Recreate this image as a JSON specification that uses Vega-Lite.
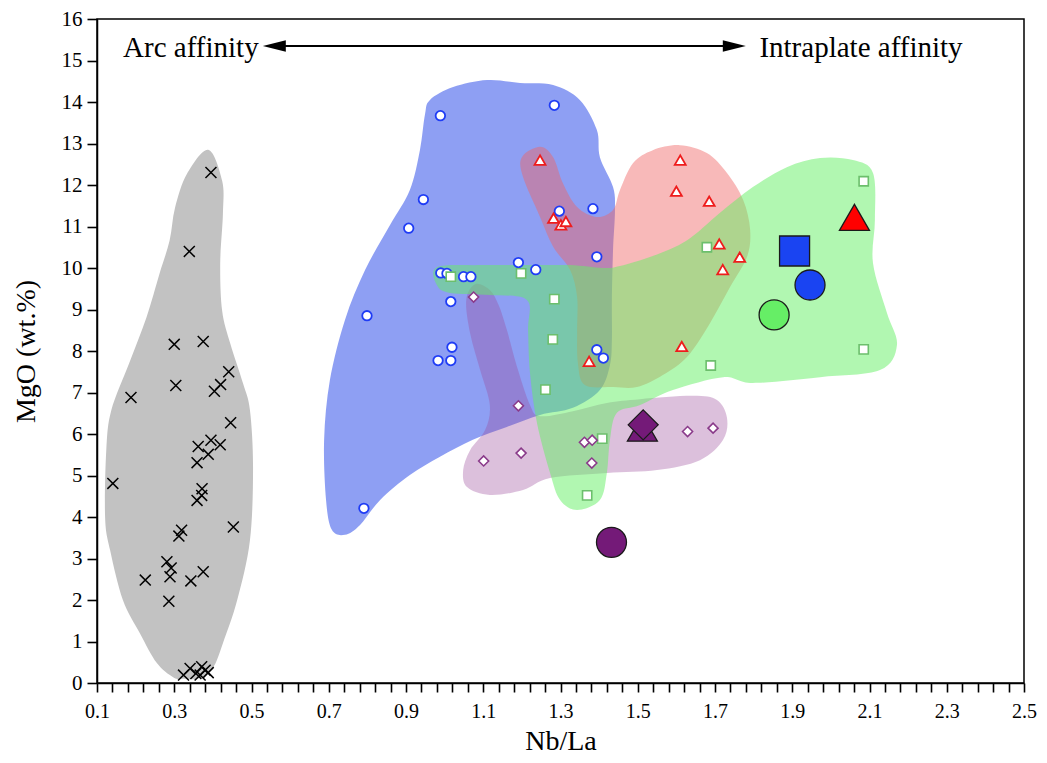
{
  "$schema": "https://vega.github.io/schema/vega-lite/v6.json",
  "width": 927,
  "height": 664,
  "autosize": {"type": "none"},
  "padding": {"left": 97, "top": 19, "right": 23, "bottom": 80},
  "config": {
    "font": "Liberation Serif",
    "view": {"stroke": "black", "strokeWidth": 1.5},
    "axis": {
      "grid": false,
      "domainColor": "black",
      "domainWidth": 1.5,
      "tickColor": "black",
      "tickWidth": 1.6,
      "labelColor": "black",
      "titleColor": "black",
      "titleFontWeight": "normal",
      "labelFont": "Liberation Serif",
      "titleFont": "Liberation Serif"
    }
  },
  "datasets": {
    "regions": [
      {"g": "gray", "i": 1, "x": 0.388, "y": 12.85},
      {"g": "gray", "i": 2, "x": 0.424, "y": 12.10},
      {"g": "gray", "i": 3, "x": 0.426, "y": 11.31},
      {"g": "gray", "i": 4, "x": 0.419, "y": 10.11},
      {"g": "gray", "i": 5, "x": 0.424, "y": 8.97},
      {"g": "gray", "i": 6, "x": 0.445, "y": 8.18},
      {"g": "gray", "i": 7, "x": 0.478, "y": 7.22},
      {"g": "gray", "i": 8, "x": 0.496, "y": 6.57},
      {"g": "gray", "i": 9, "x": 0.504, "y": 5.20},
      {"g": "gray", "i": 10, "x": 0.496, "y": 3.44},
      {"g": "gray", "i": 11, "x": 0.463, "y": 2.00},
      {"g": "gray", "i": 12, "x": 0.426, "y": 0.96},
      {"g": "gray", "i": 13, "x": 0.401, "y": 0.38},
      {"g": "gray", "i": 14, "x": 0.367, "y": 0.12},
      {"g": "gray", "i": 15, "x": 0.323, "y": 0.10},
      {"g": "gray", "i": 16, "x": 0.297, "y": 0.14},
      {"g": "gray", "i": 17, "x": 0.255, "y": 0.48},
      {"g": "gray", "i": 18, "x": 0.211, "y": 1.20},
      {"g": "gray", "i": 19, "x": 0.167, "y": 2.00},
      {"g": "gray", "i": 20, "x": 0.134, "y": 3.20},
      {"g": "gray", "i": 21, "x": 0.121, "y": 3.99},
      {"g": "gray", "i": 22, "x": 0.124, "y": 5.61},
      {"g": "gray", "i": 23, "x": 0.137, "y": 6.57},
      {"g": "gray", "i": 24, "x": 0.183, "y": 7.70},
      {"g": "gray", "i": 25, "x": 0.228, "y": 8.81},
      {"g": "gray", "i": 26, "x": 0.262, "y": 9.87},
      {"g": "gray", "i": 27, "x": 0.288, "y": 10.66},
      {"g": "gray", "i": 28, "x": 0.302, "y": 11.45},
      {"g": "gray", "i": 29, "x": 0.333, "y": 12.27},

      {"g": "blue", "i": 1, "x": 0.962, "y": 14.05},
      {"g": "blue", "i": 2, "x": 1.022, "y": 14.36},
      {"g": "blue", "i": 3, "x": 1.110, "y": 14.53},
      {"g": "blue", "i": 4, "x": 1.195, "y": 14.46},
      {"g": "blue", "i": 5, "x": 1.281, "y": 14.41},
      {"g": "blue", "i": 6, "x": 1.350, "y": 14.05},
      {"g": "blue", "i": 7, "x": 1.394, "y": 13.33},
      {"g": "blue", "i": 8, "x": 1.402, "y": 12.67},
      {"g": "blue", "i": 9, "x": 1.436, "y": 11.95},
      {"g": "blue", "i": 10, "x": 1.441, "y": 11.40},
      {"g": "blue", "i": 11, "x": 1.436, "y": 10.43},
      {"g": "blue", "i": 12, "x": 1.433, "y": 9.23},
      {"g": "blue", "i": 13, "x": 1.433, "y": 8.27},
      {"g": "blue", "i": 14, "x": 1.428, "y": 7.66},
      {"g": "blue", "i": 15, "x": 1.402, "y": 7.06},
      {"g": "blue", "i": 16, "x": 1.332, "y": 6.63},
      {"g": "blue", "i": 17, "x": 1.247, "y": 6.46},
      {"g": "blue", "i": 18, "x": 1.161, "y": 6.17},
      {"g": "blue", "i": 19, "x": 1.073, "y": 5.86},
      {"g": "blue", "i": 20, "x": 0.988, "y": 5.45},
      {"g": "blue", "i": 21, "x": 0.910, "y": 5.01},
      {"g": "blue", "i": 22, "x": 0.833, "y": 4.41},
      {"g": "blue", "i": 23, "x": 0.781, "y": 3.81},
      {"g": "blue", "i": 24, "x": 0.742, "y": 3.57},
      {"g": "blue", "i": 25, "x": 0.708, "y": 3.69},
      {"g": "blue", "i": 26, "x": 0.693, "y": 4.41},
      {"g": "blue", "i": 27, "x": 0.688, "y": 5.86},
      {"g": "blue", "i": 28, "x": 0.703, "y": 7.30},
      {"g": "blue", "i": 29, "x": 0.742, "y": 8.75},
      {"g": "blue", "i": 30, "x": 0.794, "y": 9.95},
      {"g": "blue", "i": 31, "x": 0.859, "y": 11.04},
      {"g": "blue", "i": 32, "x": 0.910, "y": 11.88},
      {"g": "blue", "i": 33, "x": 0.936, "y": 12.84},
      {"g": "blue", "i": 34, "x": 0.949, "y": 13.69},

      {"g": "purple", "i": 1, "x": 1.079, "y": 9.61},
      {"g": "purple", "i": 2, "x": 1.117, "y": 9.47},
      {"g": "purple", "i": 3, "x": 1.140, "y": 9.10},
      {"g": "purple", "i": 4, "x": 1.161, "y": 8.51},
      {"g": "purple", "i": 5, "x": 1.190, "y": 7.54},
      {"g": "purple", "i": 6, "x": 1.221, "y": 6.70},
      {"g": "purple", "i": 7, "x": 1.247, "y": 6.43},
      {"g": "purple", "i": 8, "x": 1.332, "y": 6.55},
      {"g": "purple", "i": 9, "x": 1.420, "y": 6.75},
      {"g": "purple", "i": 10, "x": 1.506, "y": 6.84},
      {"g": "purple", "i": 11, "x": 1.643, "y": 6.92},
      {"g": "purple", "i": 12, "x": 1.705, "y": 6.82},
      {"g": "purple", "i": 13, "x": 1.731, "y": 6.39},
      {"g": "purple", "i": 14, "x": 1.721, "y": 5.86},
      {"g": "purple", "i": 15, "x": 1.661, "y": 5.37},
      {"g": "purple", "i": 16, "x": 1.550, "y": 5.13},
      {"g": "purple", "i": 17, "x": 1.420, "y": 5.06},
      {"g": "purple", "i": 18, "x": 1.273, "y": 4.94},
      {"g": "purple", "i": 19, "x": 1.203, "y": 4.65},
      {"g": "purple", "i": 20, "x": 1.117, "y": 4.53},
      {"g": "purple", "i": 21, "x": 1.058, "y": 4.72},
      {"g": "purple", "i": 22, "x": 1.048, "y": 5.13},
      {"g": "purple", "i": 23, "x": 1.066, "y": 5.61},
      {"g": "purple", "i": 24, "x": 1.105, "y": 6.10},
      {"g": "purple", "i": 25, "x": 1.117, "y": 6.70},
      {"g": "purple", "i": 26, "x": 1.092, "y": 7.54},
      {"g": "purple", "i": 27, "x": 1.066, "y": 8.43},
      {"g": "purple", "i": 28, "x": 1.056, "y": 9.23},

      {"g": "red", "i": 1, "x": 1.247, "y": 12.92},
      {"g": "red", "i": 2, "x": 1.281, "y": 12.67},
      {"g": "red", "i": 3, "x": 1.306, "y": 12.05},
      {"g": "red", "i": 4, "x": 1.343, "y": 11.47},
      {"g": "red", "i": 5, "x": 1.394, "y": 11.23},
      {"g": "red", "i": 6, "x": 1.436, "y": 11.40},
      {"g": "red", "i": 7, "x": 1.454, "y": 11.88},
      {"g": "red", "i": 8, "x": 1.488, "y": 12.53},
      {"g": "red", "i": 9, "x": 1.539, "y": 12.84},
      {"g": "red", "i": 10, "x": 1.609, "y": 12.96},
      {"g": "red", "i": 11, "x": 1.679, "y": 12.77},
      {"g": "red", "i": 12, "x": 1.731, "y": 12.29},
      {"g": "red", "i": 13, "x": 1.773, "y": 11.64},
      {"g": "red", "i": 14, "x": 1.791, "y": 10.92},
      {"g": "red", "i": 15, "x": 1.783, "y": 10.27},
      {"g": "red", "i": 16, "x": 1.739, "y": 9.54},
      {"g": "red", "i": 17, "x": 1.687, "y": 8.67},
      {"g": "red", "i": 18, "x": 1.628, "y": 7.86},
      {"g": "red", "i": 19, "x": 1.565, "y": 7.42},
      {"g": "red", "i": 20, "x": 1.498, "y": 7.13},
      {"g": "red", "i": 21, "x": 1.436, "y": 7.13},
      {"g": "red", "i": 22, "x": 1.363, "y": 7.18},
      {"g": "red", "i": 23, "x": 1.345, "y": 7.71},
      {"g": "red", "i": 24, "x": 1.343, "y": 8.51},
      {"g": "red", "i": 25, "x": 1.343, "y": 9.30},
      {"g": "red", "i": 26, "x": 1.325, "y": 9.95},
      {"g": "red", "i": 27, "x": 1.281, "y": 10.51},
      {"g": "red", "i": 28, "x": 1.247, "y": 11.23},
      {"g": "red", "i": 29, "x": 1.203, "y": 12.19},
      {"g": "red", "i": 30, "x": 1.200, "y": 12.67},

      {"g": "green", "i": 1, "x": 0.980, "y": 10.02},
      {"g": "green", "i": 2, "x": 1.092, "y": 10.07},
      {"g": "green", "i": 3, "x": 1.221, "y": 10.07},
      {"g": "green", "i": 4, "x": 1.325, "y": 10.07},
      {"g": "green", "i": 5, "x": 1.410, "y": 10.00},
      {"g": "green", "i": 6, "x": 1.454, "y": 10.05},
      {"g": "green", "i": 7, "x": 1.539, "y": 10.29},
      {"g": "green", "i": 8, "x": 1.628, "y": 10.67},
      {"g": "green", "i": 9, "x": 1.713, "y": 11.33},
      {"g": "green", "i": 10, "x": 1.798, "y": 11.95},
      {"g": "green", "i": 11, "x": 1.886, "y": 12.43},
      {"g": "green", "i": 12, "x": 1.972, "y": 12.65},
      {"g": "green", "i": 13, "x": 2.057, "y": 12.60},
      {"g": "green", "i": 14, "x": 2.109, "y": 12.29},
      {"g": "green", "i": 15, "x": 2.114, "y": 11.16},
      {"g": "green", "i": 16, "x": 2.109, "y": 10.12},
      {"g": "green", "i": 17, "x": 2.145, "y": 8.92},
      {"g": "green", "i": 18, "x": 2.171, "y": 8.14},
      {"g": "green", "i": 19, "x": 2.127, "y": 7.54},
      {"g": "green", "i": 20, "x": 1.972, "y": 7.37},
      {"g": "green", "i": 21, "x": 1.798, "y": 7.23},
      {"g": "green", "i": 22, "x": 1.721, "y": 7.37},
      {"g": "green", "i": 23, "x": 1.591, "y": 7.06},
      {"g": "green", "i": 24, "x": 1.506, "y": 6.70},
      {"g": "green", "i": 25, "x": 1.446, "y": 6.51},
      {"g": "green", "i": 26, "x": 1.428, "y": 5.86},
      {"g": "green", "i": 27, "x": 1.420, "y": 5.06},
      {"g": "green", "i": 28, "x": 1.402, "y": 4.41},
      {"g": "green", "i": 29, "x": 1.343, "y": 4.17},
      {"g": "green", "i": 30, "x": 1.299, "y": 4.41},
      {"g": "green", "i": 31, "x": 1.273, "y": 5.06},
      {"g": "green", "i": 32, "x": 1.239, "y": 6.27},
      {"g": "green", "i": 33, "x": 1.221, "y": 7.47},
      {"g": "green", "i": 34, "x": 1.216, "y": 8.51},
      {"g": "green", "i": 35, "x": 1.213, "y": 9.23},
      {"g": "green", "i": 36, "x": 1.117, "y": 9.35},
      {"g": "green", "i": 37, "x": 1.014, "y": 9.40},
      {"g": "green", "i": 38, "x": 0.980, "y": 9.59}
    ],
    "pts": [
      {"g": "cross", "x": 0.141, "y": 4.81},
      {"g": "cross", "x": 0.188, "y": 6.88},
      {"g": "cross", "x": 0.395, "y": 12.30},
      {"g": "cross", "x": 0.339, "y": 10.40},
      {"g": "cross", "x": 0.300, "y": 8.16},
      {"g": "cross", "x": 0.375, "y": 8.23},
      {"g": "cross", "x": 0.441, "y": 7.50},
      {"g": "cross", "x": 0.304, "y": 7.17},
      {"g": "cross", "x": 0.420, "y": 7.19},
      {"g": "cross", "x": 0.404, "y": 7.03},
      {"g": "cross", "x": 0.446, "y": 6.27},
      {"g": "cross", "x": 0.362, "y": 5.70},
      {"g": "cross", "x": 0.395, "y": 5.85},
      {"g": "cross", "x": 0.419, "y": 5.74},
      {"g": "cross", "x": 0.388, "y": 5.51},
      {"g": "cross", "x": 0.359, "y": 5.31},
      {"g": "cross", "x": 0.372, "y": 4.68},
      {"g": "cross", "x": 0.371, "y": 4.52},
      {"g": "cross", "x": 0.359, "y": 4.40},
      {"g": "cross", "x": 0.453, "y": 3.76},
      {"g": "cross", "x": 0.319, "y": 3.68},
      {"g": "cross", "x": 0.312, "y": 3.54},
      {"g": "cross", "x": 0.281, "y": 2.92},
      {"g": "cross", "x": 0.292, "y": 2.77},
      {"g": "cross", "x": 0.289, "y": 2.56},
      {"g": "cross", "x": 0.225, "y": 2.48},
      {"g": "cross", "x": 0.343, "y": 2.46},
      {"g": "cross", "x": 0.375, "y": 2.68},
      {"g": "cross", "x": 0.286, "y": 1.97},
      {"g": "cross", "x": 0.324, "y": 0.19},
      {"g": "cross", "x": 0.341, "y": 0.35},
      {"g": "cross", "x": 0.356, "y": 0.23},
      {"g": "cross", "x": 0.371, "y": 0.39},
      {"g": "cross", "x": 0.380, "y": 0.31},
      {"g": "cross", "x": 0.388, "y": 0.25},
      {"g": "cross", "x": 0.367, "y": 0.19},

      {"g": "circ", "x": 0.989, "y": 13.67},
      {"g": "circ", "x": 1.284, "y": 13.92},
      {"g": "circ", "x": 0.945, "y": 11.65},
      {"g": "circ", "x": 0.907, "y": 10.96},
      {"g": "circ", "x": 1.297, "y": 11.37},
      {"g": "circ", "x": 1.384, "y": 11.43},
      {"g": "circ", "x": 1.394, "y": 10.27},
      {"g": "circ", "x": 1.191, "y": 10.13},
      {"g": "circ", "x": 1.236, "y": 9.96},
      {"g": "circ", "x": 0.990, "y": 9.88},
      {"g": "circ", "x": 1.006, "y": 9.87},
      {"g": "circ", "x": 1.049, "y": 9.79},
      {"g": "circ", "x": 1.068, "y": 9.79},
      {"g": "circ", "x": 1.016, "y": 9.19},
      {"g": "circ", "x": 0.799, "y": 8.85},
      {"g": "circ", "x": 1.019, "y": 8.09},
      {"g": "circ", "x": 0.983, "y": 7.77},
      {"g": "circ", "x": 1.016, "y": 7.77},
      {"g": "circ", "x": 1.394, "y": 8.03},
      {"g": "circ", "x": 1.411, "y": 7.83},
      {"g": "circ", "x": 0.791, "y": 4.21},

      {"g": "tri", "x": 1.247, "y": 12.60},
      {"g": "tri", "x": 1.282, "y": 11.20},
      {"g": "tri", "x": 1.301, "y": 11.04},
      {"g": "tri", "x": 1.314, "y": 11.12},
      {"g": "tri", "x": 1.374, "y": 7.75},
      {"g": "tri", "x": 1.610, "y": 12.60},
      {"g": "tri", "x": 1.600, "y": 11.85},
      {"g": "tri", "x": 1.685, "y": 11.61},
      {"g": "tri", "x": 1.711, "y": 10.58},
      {"g": "tri", "x": 1.764, "y": 10.26},
      {"g": "tri", "x": 1.720, "y": 9.96},
      {"g": "tri", "x": 1.614, "y": 8.11},

      {"g": "sq", "x": 1.016, "y": 9.79},
      {"g": "sq", "x": 1.198, "y": 9.87},
      {"g": "sq", "x": 1.284, "y": 9.25},
      {"g": "sq", "x": 1.280, "y": 8.28},
      {"g": "sq", "x": 1.261, "y": 7.07},
      {"g": "sq", "x": 1.408, "y": 5.89},
      {"g": "sq", "x": 1.369, "y": 4.52},
      {"g": "sq", "x": 1.689, "y": 7.65},
      {"g": "sq", "x": 1.679, "y": 10.50},
      {"g": "sq", "x": 2.085, "y": 12.09},
      {"g": "sq", "x": 2.085, "y": 8.04},

      {"g": "dia", "x": 1.075, "y": 9.30},
      {"g": "dia", "x": 1.191, "y": 6.68},
      {"g": "dia", "x": 1.101, "y": 5.35},
      {"g": "dia", "x": 1.198, "y": 5.54},
      {"g": "dia", "x": 1.362, "y": 5.80},
      {"g": "dia", "x": 1.382, "y": 5.85},
      {"g": "dia", "x": 1.381, "y": 5.30},
      {"g": "dia", "x": 1.629, "y": 6.06},
      {"g": "dia", "x": 1.695, "y": 6.14}
    ],
    "big": [
      {"sym": "circle", "grp": "purple", "x": 1.432, "y": 3.39},
      {"sym": "triangle", "grp": "purple", "x": 1.512, "y": 6.14},
      {"sym": "diamond", "grp": "purple", "x": 1.514, "y": 6.22},
      {"sym": "square", "grp": "blue", "x": 1.906, "y": 10.41},
      {"sym": "circle", "grp": "blue", "x": 1.946, "y": 9.59},
      {"sym": "circle", "grp": "green", "x": 1.853, "y": 8.87},
      {"sym": "triangle", "grp": "red", "x": 2.061, "y": 11.22}
    ],
    "arrow": [
      {"x": 0.56, "x2": 1.75, "y": 15.35}
    ],
    "heads": [
      {"d": "left", "x": 0.559, "y": 15.35},
      {"d": "right", "x": 1.750, "y": 15.35}
    ],
    "txt": [
      {"t": "Arc affinity", "x": 0.343, "y": 15.08},
      {"t": "Intraplate affinity", "x": 2.078, "y": 15.08}
    ]
  },
  "encoding": {
    "x": {
      "field": "x",
      "type": "quantitative",
      "scale": {"domain": [0.1, 2.5], "nice": false, "zero": false},
      "axis": {
        "title": "Nb/La",
        "titleFontSize": 28,
        "titlePadding": 6,
        "labelFontSize": 20,
        "labelPadding": 9,
        "labelOverlap": false,
        "labelBound": false,
        "labelFlush": false,
        "tickSize": 9,
        "values": [0.1, 0.14, 0.18, 0.22, 0.26, 0.3, 0.34, 0.38, 0.42, 0.46, 0.5, 0.54, 0.58, 0.62, 0.66, 0.7, 0.74, 0.78, 0.82, 0.86, 0.9, 0.94, 0.98, 1.02, 1.06, 1.1, 1.14, 1.18, 1.22, 1.26, 1.3, 1.34, 1.38, 1.42, 1.46, 1.5, 1.54, 1.58, 1.62, 1.66, 1.7, 1.74, 1.78, 1.82, 1.86, 1.9, 1.94, 1.98, 2.02, 2.06, 2.1, 2.14, 2.18, 2.22, 2.26, 2.3, 2.34, 2.38, 2.42, 2.46, 2.5],
        "labelExpr": "abs((datum.value - 0.1) / 0.2 - round((datum.value - 0.1) / 0.2)) < 0.01 ? format(datum.value, '.1f') : ''"
      }
    },
    "y": {
      "field": "y",
      "type": "quantitative",
      "scale": {"domain": [0, 16], "nice": false, "zero": false},
      "axis": {
        "title": "MgO (wt.%)",
        "titleFontSize": 28,
        "titlePadding": 21,
        "labelFontSize": 21,
        "labelPadding": 5,
        "tickSize": 10,
        "values": [0, 1, 2, 3, 4, 5, 6, 7, 8, 9, 10, 11, 12, 13, 14, 15, 16],
        "format": "d"
      }
    }
  },
  "layer": [
    {
      "data": {"name": "regions"},
      "transform": [{"filter": "datum.g === 'gray'"}],
      "mark": {"type": "line", "interpolate": "cardinal-closed", "fill": "#c2c2c2", "fillOpacity": 1, "strokeOpacity": 0, "strokeWidth": 0},
      "encoding": {"order": {"field": "i", "type": "quantitative"}}
    },
    {
      "data": {"name": "regions"},
      "transform": [{"filter": "datum.g === 'blue'"}],
      "mark": {"type": "line", "interpolate": "cardinal-closed", "fill": "#3c5aeb", "fillOpacity": 0.58, "strokeOpacity": 0, "strokeWidth": 0},
      "encoding": {"order": {"field": "i", "type": "quantitative"}}
    },
    {
      "data": {"name": "regions"},
      "transform": [{"filter": "datum.g === 'purple'"}],
      "mark": {"type": "line", "interpolate": "cardinal-closed", "fill": "#9a4a9a", "fillOpacity": 0.35, "strokeOpacity": 0, "strokeWidth": 0},
      "encoding": {"order": {"field": "i", "type": "quantitative"}}
    },
    {
      "data": {"name": "regions"},
      "transform": [{"filter": "datum.g === 'red'"}],
      "mark": {"type": "line", "interpolate": "cardinal-closed", "fill": "#f06464", "fillOpacity": 0.45, "strokeOpacity": 0, "strokeWidth": 0},
      "encoding": {"order": {"field": "i", "type": "quantitative"}}
    },
    {
      "data": {"name": "regions"},
      "transform": [{"filter": "datum.g === 'green'"}],
      "mark": {"type": "line", "interpolate": "cardinal-closed", "fill": "#64f064", "fillOpacity": 0.5, "strokeOpacity": 0, "strokeWidth": 0},
      "encoding": {"order": {"field": "i", "type": "quantitative"}}
    },
    {
      "data": {"name": "pts"},
      "transform": [{"filter": "datum.g === 'cross'"}],
      "mark": {"type": "point", "shape": "M-1,-1L1,1M-1,1L1,-1", "filled": false, "stroke": "black", "strokeWidth": 1.5, "size": 120, "opacity": 1}
    },
    {
      "data": {"name": "pts"},
      "transform": [{"filter": "datum.g === 'circ'"}],
      "mark": {"type": "point", "shape": "circle", "filled": false, "fill": "white", "fillOpacity": 1, "stroke": "#1f3cf5", "strokeWidth": 1.8, "size": 90, "opacity": 1}
    },
    {
      "data": {"name": "pts"},
      "transform": [{"filter": "datum.g === 'tri'"}],
      "mark": {"type": "point", "shape": "triangle-up", "filled": false, "fill": "white", "fillOpacity": 1, "stroke": "#ee1c1c", "strokeWidth": 1.8, "size": 120, "opacity": 1}
    },
    {
      "data": {"name": "pts"},
      "transform": [{"filter": "datum.g === 'sq'"}],
      "mark": {"type": "point", "shape": "square", "filled": false, "fill": "white", "fillOpacity": 1, "stroke": "#6cbf6c", "strokeWidth": 1.6, "size": 85, "opacity": 1}
    },
    {
      "data": {"name": "pts"},
      "transform": [{"filter": "datum.g === 'dia'"}],
      "mark": {"type": "point", "shape": "diamond", "filled": false, "fill": "white", "fillOpacity": 1, "stroke": "#8a3a8a", "strokeWidth": 1.6, "size": 100, "opacity": 1}
    },
    {
      "data": {"name": "big"},
      "mark": {"type": "point", "filled": true, "stroke": "#1a1a1a", "strokeWidth": 1.3, "size": 900, "opacity": 1},
      "encoding": {
        "shape": {"field": "sym", "type": "nominal", "scale": {"domain": ["circle", "triangle", "diamond", "square"], "range": ["circle", "triangle-up", "diamond", "square"]}, "legend": null},
        "fill": {"field": "grp", "type": "nominal", "scale": {"domain": ["purple", "blue", "green", "red"], "range": ["#741a78", "#1a44f2", "#66ee66", "#ff0000"]}, "legend": null}
      }
    },
    {
      "data": {"name": "arrow"},
      "mark": {"type": "rule", "color": "black", "strokeWidth": 2},
      "encoding": {"x2": {"field": "x2"}}
    },
    {
      "data": {"name": "heads"},
      "mark": {"type": "point", "filled": true, "color": "black", "size": 529, "opacity": 1, "strokeWidth": 0},
      "encoding": {
        "shape": {"field": "d", "type": "nominal", "scale": {"domain": ["left", "right"], "range": ["M-1,0L1,-0.5L1,0.5Z", "M1,0L-1,-0.5L-1,0.5Z"]}, "legend": null}
      }
    },
    {
      "data": {"name": "txt"},
      "mark": {"type": "text", "font": "Liberation Serif", "fontSize": 29, "color": "black", "align": "center", "baseline": "alphabetic"},
      "encoding": {"text": {"field": "t"}}
    }
  ],
  "resolve": {"scale": {"shape": "independent", "fill": "independent"}}
}
